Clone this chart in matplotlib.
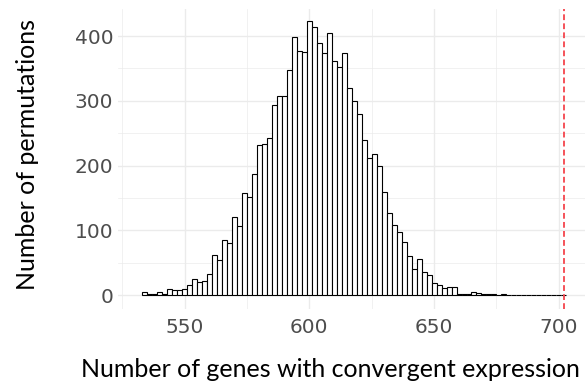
import matplotlib
matplotlib.use("Agg")
import matplotlib.pyplot as plt

plt.rcParams["font.family"] = ["DejaVu Sans"]

# ---- data ----
bin_centers = [534, 536, 538, 540, 542, 544, 546, 548, 550, 552, 554, 556, 558, 560,
               562, 564, 566, 568, 570, 572, 574, 576, 578, 580, 582, 584, 586, 588,
               590, 592, 594, 596, 598, 600, 602, 604, 606, 608, 610, 612, 614, 616,
               618, 620, 622, 624, 626, 628, 630, 632, 634, 636, 638, 640, 642, 644,
               646, 648, 650, 652, 654, 656, 658, 660, 662, 664, 666, 668, 670, 672,
               674, 676, 678, 680, 682, 684, 686, 688, 690, 692, 694, 696, 698, 700, 702]
counts = [4, 2, 2, 4, 2, 10, 7, 7, 10, 15, 24, 20, 22, 33,
          62, 54, 85, 80, 120, 106, 157, 152, 187, 231, 233, 243, 293, 307,
          307, 347, 399, 377, 375, 423, 414, 389, 374, 405, 362, 352, 373, 320,
          299, 280, 240, 211, 218, 199, 159, 126, 108, 97, 82, 60, 40, 55,
          35, 31, 19, 15, 11, 12, 13, 2, 1, 2, 4, 3, 2, 1,
          1, 0, 1, 0, 0, 0, 0, 0, 0, 0, 0, 0, 0, 0, 0]
bin_width = 2
observed = 702

x_ticks = [550, 600, 650, 700]
x_minor = [525, 575, 625, 675]
y_ticks = [0, 100, 200, 300, 400]
y_minor = [50, 150, 250, 350]
x_label = "Number of genes with convergent expression"
y_label = "Number of permutations"

# ---- figure ----
W, H = 585, 389
fig = plt.figure(figsize=(W / 100, H / 100), dpi=100)
left, right, top, bottom = 118, 585, 9, 309
ax = fig.add_axes([left / W, 1 - bottom / H, (right - left) / W, (bottom - top) / H])

grid_col = "#EBEBEB"
for v in x_minor:
    ax.axvline(v, color=grid_col, lw=0.5, zorder=0)
for v in y_minor:
    ax.axhline(v, color=grid_col, lw=0.5, zorder=0)
for v in x_ticks:
    ax.axvline(v, color=grid_col, lw=1.0, zorder=0)
for v in y_ticks:
    ax.axhline(v, color=grid_col, lw=1.0, zorder=0)

ax.bar(bin_centers, counts, width=bin_width, color="white", edgecolor="black",
       linewidth=0.8, zorder=2)
ax.axvline(observed, color="#F4444C", lw=1.3, ls=(0, (3.2, 1.8)), zorder=3)

ax.set_xlim(523.3, 710.5)
ax.set_ylim(-21.6, 441.7)
ax.set_xticks(x_ticks)
ax.set_yticks(y_ticks)
ax.tick_params(length=0, labelsize=14.5, labelcolor="#4D4D4D", pad=3.4)
ax.tick_params(axis="x", pad=6.2)
for s in ax.spines.values():
    s.set_visible(False)
ax.set_facecolor("white")

tfont = ["Lato", "DejaVu Sans"]
fig.text(330 / W, 1 - 376.7 / H, x_label, ha="center", va="baseline",
         fontsize=18, family=tfont, color="black")
fig.text(28 / W, 1 - 155 / H, y_label, ha="center", va="center", rotation=90,
         fontsize=18, family=tfont, color="black")

fig.savefig("out.png", dpi=100, facecolor="white")
